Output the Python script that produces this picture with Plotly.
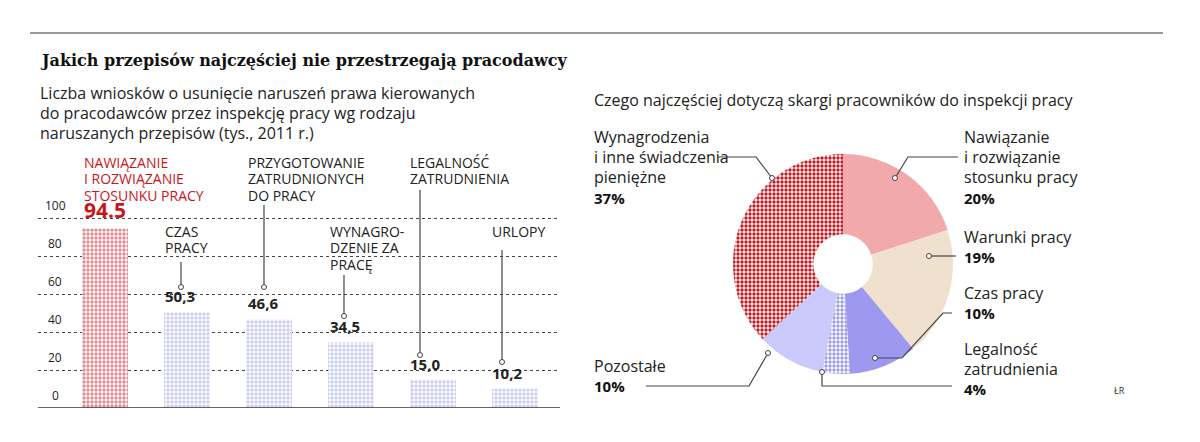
import plotly.graph_objects as go

W, H = 1200, 442
OFF = 8  # page body margin

bar_labels = [["NAWIĄZANIE", "I ROZWIĄZANIE", "STOSUNKU PRACY"], ["CZAS", "PRACY"],
              ["PRZYGOTOWANIE", "ZATRUDNIONYCH", "DO PRACY"], ["WYNAGRO-", "DZENIE ZA", "PRACĘ"],
              ["LEGALNOŚĆ", "ZATRUDNIENIA"], ["URLOPY"]]
bar_values = [94.5, 50.3, 46.6, 34.5, 15.0, 10.2]
bar_value_text = ["94.5", "50,3", "46,6", "34,5", "15,0", "10,2"]
y_ticks = [0, 20, 40, 60, 80, 100]

pie_labels = ["Nawiązanie i rozwiązanie stosunku pracy", "Warunki pracy", "Czas pracy",
              "Legalność zatrudnienia", "Pozostałe", "Wynagrodzenia i inne świadczenia pieniężne"]
pie_values = [20, 19, 10, 4, 10, 37]

RED = "#c8161d"
LAV = "#9c9ce8"
FONT = "Open Sans"


def fx(x):
    return (x - OFF) / W


def fy(y):
    return 1 - (y - OFF) / H


fig = go.Figure()

fig.add_trace(go.Bar(
    x=list(range(len(bar_values))), y=bar_values, width=0.56,
    marker=dict(color="white", line=dict(width=0),
                pattern=dict(shape=".", fgcolor=[RED] + [LAV] * 5, bgcolor="white",
                             size=4, solidity=0.55)),
    xaxis="x", yaxis="y", showlegend=False, hoverinfo="skip"))

fig.add_trace(go.Pie(
    values=pie_values, labels=pie_labels, sort=False, direction="clockwise", rotation=0,
    hole=0.27, textinfo="none", showlegend=False,
    domain=dict(x=[fx(733), fx(953)], y=[fy(374), fy(154)]),
    marker=dict(colors=["#f2a9ab", "#efe1cd", "#9d98f0", "white", "#c9c9fb", "white"],
                line=dict(width=0),
                pattern=dict(shape=["", "", "", ".", "", "."],
                             fgcolor=["#000", "#000", "#000", LAV, "#000", RED],
                             bgcolor="white", size=4, solidity=0.55))))

# axis scale: 1 unit = 1.9 px, zero at y=408 px
y_top = (408 - 140) / 1.9
fig.update_layout(
    width=W, height=H, margin=dict(l=0, r=0, t=0, b=0),
    paper_bgcolor="white", plot_bgcolor="white",
    font=dict(family=FONT, color="#222"),
    xaxis=dict(domain=[fx(38), fx(560)], range=[(38 - 105) / 82, (560 - 105) / 82],
               visible=False),
    yaxis=dict(domain=[fy(408), fy(140)], range=[0, y_top], tickvals=y_ticks,
               showticklabels=False, showgrid=True, gridcolor="#444", griddash="dot",
               gridwidth=1, zeroline=False),
)

ann = []
shapes = []


def text(x, y, t, size, color="#222", family=FONT, anchor="middle"):
    ann.append(dict(x=fx(x), y=fy(y), xref="paper", yref="paper", xanchor="left",
                    yanchor=anchor, showarrow=False, text=t,
                    font=dict(family=family, size=size, color=color)))


def lines(x, y, rows, step, size, color="#222"):
    for k, r in enumerate(rows):
        text(x, y + k * step, r, size, color)


def dot(x, y):
    shapes.append(dict(type="circle", xref="paper", yref="paper",
                       x0=fx(x - 2.5), x1=fx(x + 2.5), y0=fy(y + 2.5), y1=fy(y - 2.5),
                       line=dict(color="#444", width=1), fillcolor="white"))


shapes.append(dict(type="line", xref="paper", yref="paper", x0=fx(30), x1=fx(1163),
                   y0=fy(33), y1=fy(33), line=dict(color="#333", width=1)))
shapes.append(dict(type="line", xref="paper", yref="y", x0=fx(38), x1=fx(560), y0=0, y1=0,
                   line=dict(color="#333", width=1.5)))

text(38, 60, "<b>Jakich przepisów najczęściej nie przestrzegają pracodawcy</b>", 16,
     "#111", "DejaVu Serif")
lines(38, 93, ["Liczba wniosków o usunięcie naruszeń prawa kierowanych",
               "do pracodawców przez inspekcję pracy wg rodzaju",
               "naruszanych przepisów (tys., 2011 r.)"], 20, 16)
text(592, 100, "Czego najczęściej dotyczą skargi pracowników do inspekcji pracy", 16)

for t in y_ticks:
    ann.append(dict(x=fx(55), y=t, xref="paper", yref="y", xanchor="center", yanchor="bottom",
                    yshift=2, showarrow=False, text=str(t), font=dict(size=12, color="#222")))

lab_pos = [(82, 162), (163, 231), (246, 162), (328, 231), (408, 162), (490, 231)]
leaders = [None, (181, 262, 287), (264, 205, 287), (344, 275, 316), (420, 190, 355), (502, 250, 362)]
for i, (lx, ly) in enumerate(lab_pos):
    col = RED if i == 0 else "#222"
    lines(lx, ly, bar_labels[i], 16.5, 14, col)
    ann.append(dict(x=fx(lx), y=bar_values[i], xref="paper", yref="y", xanchor="left",
                    yanchor="bottom", yshift=4 if i else 2, showarrow=False,
                    text="<b>%s</b>" % bar_value_text[i],
                    font=dict(size=21 if i == 0 else 15, color=col)))
    if leaders[i]:
        x, y0, y1 = leaders[i]
        shapes.append(dict(type="line", xref="paper", yref="paper", x0=fx(x), x1=fx(x),
                           y0=fy(y0), y1=fy(y1), line=dict(color="#444", width=1.2)))
        dot(x, y1)

pie_ann = [
    (592, 137, ["Wynagrodzenia", "i inne świadczenia", "pieniężne"], "37%", 198),
    (962, 137, ["Nawiązanie", "i rozwiązanie", "stosunku pracy"], "20%", 198),
    (962, 237, ["Warunki pracy"], "19%", 257),
    (962, 293, ["Czas pracy"], "10%", 313),
    (962, 349, ["Legalność", "zatrudnienia"], "4%", 389),
    (592, 366, ["Pozostałe"], "10%", 386),
]
for x, y, rows, pct, py in pie_ann:
    lines(x, y, rows, 20, 16)
    text(x, py, "<b>%s</b>" % pct, 15, "#111")

pie_leaders = [
    ([718, 756, 772], [157, 157, 178]),
    ([958, 908, 895], [157, 157, 178]),
    ([956, 929], [256, 256]),
    ([952, 943, 902, 875], [313, 313, 358, 358]),
    ([952, 822, 822], [386, 386, 372]),
    ([646, 749, 768], [386, 386, 353]),
]
for xs, ys in pie_leaders:
    path = "M " + " L ".join("%f %f" % (fx(x), fy(y)) for x, y in zip(xs, ys))
    shapes.append(dict(type="path", xref="paper", yref="paper", path=path,
                       line=dict(color="#444", width=1.2)))
    dot(xs[-1], ys[-1])

text(1112, 390, "ŁR", 9, "#333")

fig.update_layout(annotations=ann, shapes=shapes)
fig.write_html("out.html")
